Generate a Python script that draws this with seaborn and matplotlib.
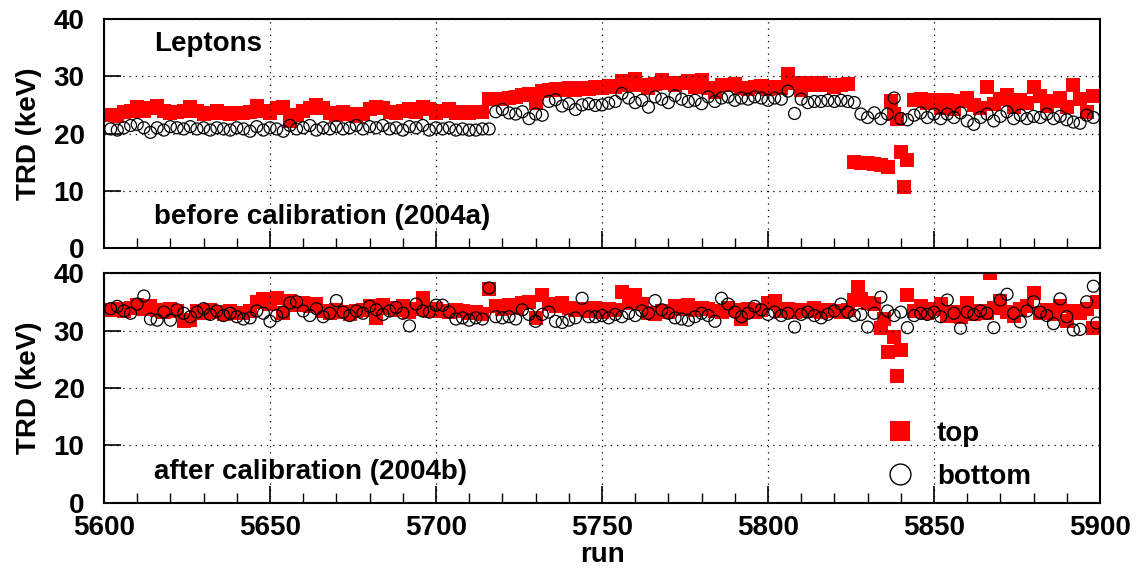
import numpy as np
import pandas as pd
import matplotlib
matplotlib.use("Agg")
import matplotlib.pyplot as plt
import seaborn as sns
from matplotlib.lines import Line2D
from matplotlib.ticker import MultipleLocator

# ── Data (one point every 2 runs) ─────────────────────────────────────────────
runs = list(range(5602, 5900, 2))

# before calibration (2004a)
before_top = [
    23.2, 23.0, 23.8, 24.0, 24.6, 24.0, 24.4, 24.8, 23.9, 23.6,
    23.8, 24.0, 24.6, 24.0, 23.4, 23.6, 24.0, 23.5, 23.4, 23.6,
    23.5, 23.8, 24.8, 24.0, 23.6, 24.4, 24.6, 22.2, 23.2, 24.0,
    24.4, 25.0, 24.4, 23.5, 23.2, 23.8, 23.4, 23.0, 23.4, 24.2,
    24.6, 24.4, 23.8, 23.6, 24.0, 24.2, 23.8, 24.6, 24.2, 23.6,
    24.0, 24.2, 23.6, 23.8, 23.6, 23.8, 23.8, 26.0, 26.1, 26.0,
    26.2, 26.3, 26.8, 26.9, 25.3, 27.4, 27.6, 27.8, 27.6, 27.9,
    27.6, 28.0, 27.8, 28.2, 28.0, 28.3, 28.2, 29.2, 28.4, 29.5,
    28.4, 28.0, 28.6, 29.3, 28.8, 28.4, 28.8, 29.2, 28.2, 29.3,
    28.0, 27.2, 28.5, 28.4, 28.6, 28.0, 27.8, 28.2, 28.3, 27.8,
    28.2, 28.0, 30.4, 28.8, 27.6, 28.8, 28.4, 28.9, 28.5, 28.2,
    28.4, 28.6, 15.0, 14.9, 14.8, 14.7, 14.5, 14.2, 23.4, 16.8,
    15.4, 25.8, 26.0, 25.4, 25.9, 24.4, 25.8, 24.2, 25.6, 26.2,
    25.0, 24.4, 28.2, 25.2, 26.0, 26.8, 24.6, 25.8, 25.4, 28.1,
    26.6, 24.8, 25.6, 26.2, 24.6, 28.4, 26.0, 23.8, 26.6,
]
before_bottom = [
    20.8, 20.6, 21.0, 21.4, 21.6, 21.0, 20.2, 21.0, 20.6, 21.2,
    21.0, 20.8, 21.2, 20.8, 21.0, 20.6, 21.0, 20.8, 20.6, 21.0,
    20.8, 20.4, 21.2, 20.6, 21.0, 20.8, 20.4, 21.4, 20.8, 21.0,
    21.4, 20.6, 21.0, 20.8, 21.2, 20.8, 21.0, 21.4, 20.8, 21.2,
    21.0, 21.4, 20.8, 21.0, 20.6, 21.2, 21.0, 21.4, 20.6, 21.0,
    20.8, 21.0, 20.6, 20.8, 20.6, 20.6, 20.8, 20.8, 23.8, 24.2,
    23.6, 23.4, 23.8, 22.6, 23.4, 23.2, 25.6, 25.9, 24.8, 25.2,
    24.2, 25.0, 25.2, 24.9, 25.0, 25.3, 25.6, 27.0, 26.2, 25.4,
    25.8, 24.6, 26.4, 26.0, 25.4, 26.6, 26.0, 25.6, 25.8, 25.2,
    26.4, 25.6, 26.2, 26.4, 25.8, 26.2, 26.0, 26.4, 26.2, 25.8,
    26.2, 26.0, 27.4, 23.5, 26.0, 25.4, 25.6, 25.6, 25.8, 25.6,
    25.8, 25.6, 25.4, 23.4, 22.8, 23.6, 22.6, 23.4, 26.2, 22.6,
    22.4, 23.2, 23.6, 22.8, 23.4, 22.6, 23.4, 22.8, 23.6, 22.2,
    21.6, 22.8, 23.4, 22.2, 23.0, 23.8, 22.6, 23.2, 22.6, 23.0,
    22.8, 23.4, 22.6, 23.0, 22.4, 22.0, 21.8, 23.2, 22.8,
]

# after calibration (2004b)
after_top = [
    33.6, 33.8, 33.4, 34.0, 34.4, 33.8, 34.2, 33.6, 33.2, 33.8,
    33.4, 31.6, 31.8, 33.4, 33.0, 33.6, 33.2, 32.8, 33.4, 33.0,
    33.0, 33.4, 35.0, 35.4, 34.6, 35.6, 33.0, 35.2, 34.4, 34.8,
    34.2, 34.6, 33.4, 33.0, 33.6, 33.2, 32.8, 33.4, 33.6, 34.2,
    32.2, 34.4, 34.0, 33.6, 34.2, 33.2, 33.8, 35.6, 33.4, 33.8,
    33.4, 33.2, 33.6, 33.4, 33.0, 33.2, 32.8, 37.2, 34.2, 33.8,
    34.4, 34.0, 34.8, 35.0, 32.2, 36.2, 34.6, 34.2, 34.8, 34.0,
    33.6, 33.8, 33.4, 34.0, 33.2, 33.8, 33.6, 36.7, 34.8, 36.1,
    34.6, 33.0, 32.8, 33.4, 33.2, 34.2, 33.8, 34.4, 33.6, 34.0,
    33.8, 33.4, 33.2, 34.0, 33.6, 32.0, 33.8, 33.2, 33.6, 34.8,
    35.2, 33.4, 33.8, 33.2, 33.6, 33.4, 34.0, 33.2, 33.6, 33.4,
    33.2, 33.6, 35.3, 35.4, 34.8, 34.6, 30.4, 26.3, 28.9, 26.6,
    36.2, 33.4, 34.2, 33.0, 33.8, 34.6, 32.6, 33.2, 32.4, 34.8,
    32.8, 33.4, 33.0, 34.0, 35.2, 33.2, 32.6, 33.8, 34.2, 36.5,
    33.0, 33.6, 32.8, 34.2, 31.6, 33.4, 33.0, 33.8, 30.4,
]
after_bottom = [
    33.8, 34.2, 33.4, 33.0, 34.6, 36.0, 32.0, 31.8, 33.2, 31.8,
    33.6, 33.0, 32.4, 33.2, 33.8, 32.8, 33.4, 32.6, 33.0, 32.4,
    32.0, 32.2, 33.4, 33.0, 31.6, 32.6, 33.2, 34.8, 35.0, 33.4,
    32.6, 33.8, 32.4, 33.0, 35.2, 33.2, 32.6, 33.4, 33.0, 34.2,
    33.6, 32.8, 33.4, 34.0, 33.0, 30.8, 34.6, 33.4, 33.2, 34.4,
    34.4, 33.2, 32.0, 32.2, 31.8, 32.2, 32.0, 37.4, 32.4, 32.2,
    32.4, 32.0, 33.6, 32.8, 31.6, 32.8, 33.2, 31.6, 31.4, 31.8,
    32.2, 35.6, 32.4, 32.4, 32.6, 32.2, 32.8, 32.4, 33.0, 32.6,
    33.4, 33.0, 35.2, 33.6, 33.0, 32.2, 32.0, 31.8, 32.4, 33.0,
    32.6, 31.6, 35.6, 34.6, 33.2, 32.4, 33.0, 34.2, 33.6, 32.8,
    33.2, 32.6, 33.0, 30.6, 32.8, 33.2, 32.6, 32.2, 32.8, 33.4,
    34.6, 33.2, 32.6, 32.8, 30.6, 33.0, 35.8, 33.4, 32.6, 33.2,
    30.5, 32.6, 33.0, 32.8, 33.2, 32.4, 35.3, 33.0, 30.4, 33.2,
    32.8, 33.4, 33.0, 30.5, 35.3, 36.3, 33.0, 31.5, 33.4, 35.0,
    33.2, 32.6, 31.2, 35.5, 32.4, 30.1, 30.2, 35.0, 37.7,
]

# odd-run outliers
before_top_extra_runs = [5837, 5839, 5841]
before_top_extra_vals = [25.6, 22.6, 10.7]
after_top_extra_runs = [5827, 5835, 5839, 5867, 5899]
after_top_extra_vals = [37.6, 32.0, 22.1, 40.0, 35.0]
after_bottom_extra_runs = [5899]
after_bottom_extra_vals = [31.3]


def panel_frame(top_vals, bottom_vals, top_xr, top_xv, bot_xr, bot_xv):
    top = pd.DataFrame({"run": runs + top_xr, "trd": top_vals + top_xv})
    bot = pd.DataFrame({"run": runs + bot_xr, "trd": bottom_vals + bot_xv})
    top["plane"] = "top"
    bot["plane"] = "bottom"
    return pd.concat([top, bot], ignore_index=True)


df_before = panel_frame(before_top, before_bottom,
                        before_top_extra_runs, before_top_extra_vals, [], [])
df_after = panel_frame(after_top, after_bottom,
                       after_top_extra_runs, after_top_extra_vals,
                       after_bottom_extra_runs, after_bottom_extra_vals)

# ── Style ─────────────────────────────────────────────────────────────────────
sns.set_theme(style="white")
plt.rcParams["font.family"] = ["Liberation Sans", "DejaVu Sans"]
plt.rcParams["font.weight"] = "bold"
plt.rcParams["axes.labelweight"] = "bold"
for key in ["text.color", "axes.labelcolor", "xtick.color", "ytick.color"]:
    plt.rcParams[key] = "black"
FS = 20
RED = "#ff0000"

fig = plt.figure(figsize=(11.38, 5.69), dpi=100)
ax1 = fig.add_axes([0.0914, 0.5641, 0.8752, 0.4025])
ax2 = fig.add_axes([0.0914, 0.1160, 0.8752, 0.4042])

for ax, df in [(ax1, df_before), (ax2, df_after)]:
    sns.scatterplot(data=df[df.plane == "top"], x="run", y="trd", ax=ax,
                    marker="s", color=RED, s=88, linewidth=0, legend=False,
                    zorder=1)
    sns.scatterplot(data=df[df.plane == "bottom"], x="run", y="trd", ax=ax,
                    marker="o", facecolor="none", edgecolor="black", s=74,
                    linewidth=0.9, legend=False, zorder=1.5)
    ax.set_xlim(5600, 5900)
    ax.set_ylim(0, 40)
    ax.set_yticks([0, 10, 20, 30, 40])
    ax.xaxis.set_major_locator(MultipleLocator(50))
    ax.xaxis.set_minor_locator(MultipleLocator(10))
    ax.set_axisbelow(False)
    ax.grid(True, which="major", color="black", linestyle=(0, (1, 4)), linewidth=0.9)
    ax.tick_params(axis="both", which="major", direction="in", length=12, width=1.2,
                   labelsize=FS, top=False, right=False, left=True, bottom=True,
                   colors="black")
    ax.tick_params(axis="y", pad=14)
    ax.tick_params(axis="x", pad=9)
    ax.tick_params(axis="x", which="minor", direction="in", length=7, width=1.0,
                   bottom=True, top=False)
    for sp in ax.spines.values():
        sp.set_linewidth(1.5)
        sp.set_color("black")
    ax.set_ylabel("TRD (keV)", fontsize=FS, fontweight="bold", color="black")
    ax.yaxis.set_label_coords(-0.062, 0.5)
    for lab in ax.get_xticklabels() + ax.get_yticklabels():
        lab.set_fontweight("bold")

ax1.set_xlabel("")
ax1.tick_params(axis="x", labelbottom=False)
ax2.set_xlabel("run", fontsize=FS, fontweight="bold", color="black")
ax2.xaxis.set_label_coords(0.5, -0.17)

ax1.text(5615, 35.6, "Leptons", fontsize=FS, fontweight="bold", va="center", ha="left")
ax1.text(5615, 5.4, "before calibration (2004a)", fontsize=FS, fontweight="bold",
         va="center", ha="left")
ax2.text(5615, 5.4, "after calibration (2004b)", fontsize=FS, fontweight="bold",
         va="center", ha="left")

handles = [
    Line2D([], [], marker="s", linestyle="none", markersize=15, color=RED,
           markeredgewidth=0),
    Line2D([], [], marker="o", linestyle="none", markersize=15,
           markerfacecolor="none", markeredgecolor="black", markeredgewidth=1.0),
]
ax2.legend(handles, ["top", "bottom"], loc="upper left", frameon=False,
           bbox_to_anchor=(887 / 1138, 1 - 421 / 569), bbox_transform=fig.transFigure,
           borderaxespad=0, borderpad=0, handlelength=0.95, handletextpad=0.85,
           labelspacing=0.6, prop={"size": FS, "weight": "bold"})

plt.savefig("out.png", dpi=100)
